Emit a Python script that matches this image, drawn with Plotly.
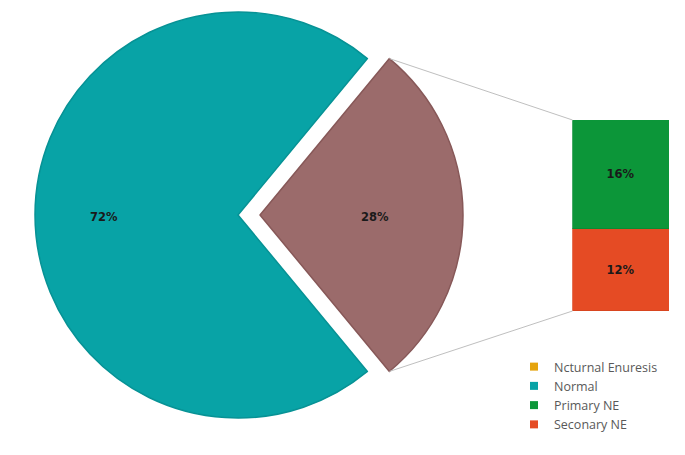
import math
import plotly.graph_objects as go

# ---- data ----
pie_labels = ["Ncturnal Enuresis", "Normal"]
pie_values = [28, 72]
bar_labels = ["Seconary NE", "Primary NE"]
bar_values = [12, 16]
legend_labels = ["Ncturnal Enuresis", "Normal", "Primary NE", "Seconary NE"]

# ---- styles ----
TEAL = "#08A3A6"
BROWN = "#9B6B6B"
GREEN = "#0C9639"
RED = "#E54B24"
ORANGE = "#E5A40E"
legend_colors = {"Ncturnal Enuresis": ORANGE, "Normal": TEAL,
                 "Primary NE": GREEN, "Seconary NE": RED}
bar_colors = {"Primary NE": GREEN, "Seconary NE": RED}
bar_edge = {"Primary NE": "#0B8A35", "Seconary NE": "#D8451F"}

W, H = 685, 455
OFF = 8            # page body margin
R = 203            # pie radius (px)
CX, CY = 238, 215  # pie centre (screen px)
EXPLODE = 22       # px the split slice is pulled out
LABEL_FONT = dict(family="DejaVu Sans", size=11.5, color="#1a1a1a", weight="bold")


def px_x(x):
    return (x - OFF) / W


def px_y(y):
    return 1 - (y - OFF) / H


def dom_x(cx):
    return [px_x(cx - R), px_x(cx + R)]


def dom_y(cy):
    return [px_y(cy + R), px_y(cy - R)]


total = sum(pie_values)
split_frac = pie_values[0] / total
half_angle = split_frac * 360 / 2
rotation = 90 - half_angle
pct = [f"{round(v / total * 100)}%" for v in pie_values]

fig = go.Figure()

# main pie (normal slice visible)
fig.add_trace(go.Pie(
    labels=pie_labels, values=pie_values, sort=False, direction="clockwise",
    rotation=rotation, domain=dict(x=dom_x(CX), y=dom_y(CY)),
    marker=dict(colors=["rgba(0,0,0,0)", TEAL],
                line=dict(color=["rgba(0,0,0,0)", "#079295"], width=1.5)),
    textinfo="none", showlegend=False, hoverinfo="label+percent",
))
# exploded slice
fig.add_trace(go.Pie(
    labels=pie_labels, values=pie_values, sort=False, direction="clockwise",
    rotation=rotation, domain=dict(x=dom_x(CX + EXPLODE), y=dom_y(CY)),
    marker=dict(colors=[BROWN, "rgba(0,0,0,0)"],
                line=dict(color=["#875858", "rgba(0,0,0,0)"], width=1.5)),
    textinfo="none", showlegend=False, hoverinfo="label+percent",
))

# pie labels
fig.add_annotation(x=px_x(CX - 0.66 * R), y=px_y(CY + 2), xref="paper", yref="paper",
                   xanchor="center", yanchor="middle",
                   text=pct[1], showarrow=False, font=LABEL_FONT)
fig.add_annotation(x=px_x(CX + EXPLODE + 0.565 * R), y=px_y(CY + 2), xref="paper",
                   yref="paper", xanchor="center", yanchor="middle",
                   text=pct[0], showarrow=False, font=LABEL_FONT)

# bar of pie
BAR_X0, BAR_X1 = 572.5, 669
BAR_Y_BOTTOM, BAR_Y_TOP = 311, 120
for lab, val in zip(bar_labels, bar_values):
    fig.add_trace(go.Bar(
        x=["NE"], y=[val], name=lab,
        marker=dict(color=bar_colors[lab], line=dict(color=bar_edge[lab], width=1)),
        text=[f"{val}%"], textposition="inside", insidetextanchor="middle",
        textfont=LABEL_FONT, showlegend=False, xaxis="x", yaxis="y",
    ))

# legend entries
for lab in legend_labels:
    fig.add_trace(go.Scatter(
        x=[None], y=[None], mode="markers", name=lab,
        marker=dict(symbol="square", size=8, color=legend_colors[lab]),
        xaxis="x", yaxis="y",
    ))

# connector lines from the split slice to the bar
a = math.radians(half_angle)
ex_cx = CX + EXPLODE
top_pt = (ex_cx + R * math.cos(a), CY - R * math.sin(a))
bot_pt = (ex_cx + R * math.cos(a), CY + R * math.sin(a))
for (px, py), by in [(top_pt, BAR_Y_TOP), (bot_pt, BAR_Y_BOTTOM)]:
    fig.add_shape(type="line", xref="paper", yref="paper",
                  x0=px_x(px), y0=px_y(py), x1=px_x(BAR_X0), y1=px_y(by),
                  line=dict(color="#BFBFBF", width=1))

fig.update_layout(
    width=W, height=H, margin=dict(l=0, r=0, t=0, b=0),
    paper_bgcolor="white", plot_bgcolor="rgba(0,0,0,0)",
    barmode="stack", bargap=0,
    xaxis=dict(domain=[px_x(BAR_X0), px_x(BAR_X1)], visible=False, fixedrange=True),
    yaxis=dict(domain=[px_y(BAR_Y_BOTTOM), px_y(BAR_Y_TOP)],
               range=[0, sum(bar_values)], visible=False, fixedrange=True),
    legend=dict(x=(506) / W, y=1 - 344 / H, xanchor="left", yanchor="top",
                traceorder="normal",
                font=dict(family="Open Sans", size=12.5, color="#595959"),
                tracegroupgap=0, itemwidth=30, bgcolor="rgba(0,0,0,0)"),
    uniformtext=dict(minsize=8),
)

fig.write_html("out.html")
